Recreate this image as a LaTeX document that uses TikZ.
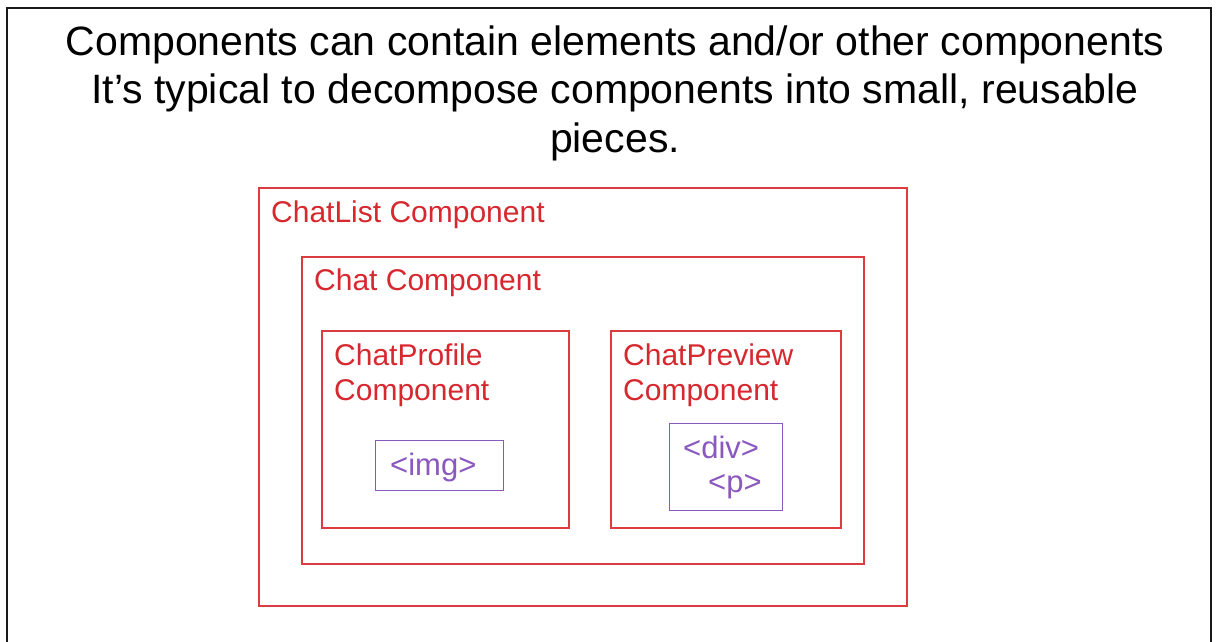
\documentclass[tikz,border=0pt]{standalone}
\usepackage{fontspec}
\setmainfont{Liberation Sans}
\definecolor{compred}{RGB}{214,40,46}
\definecolor{boxred}{RGB}{220,60,64}
\definecolor{elpurple}{RGB}{138,88,190}
\begin{document}
\begin{tikzpicture}[x=1pt,y=-1pt,
  compbox/.style={draw=boxred, line width=1.6pt, anchor=north west, inner sep=0pt},
  elbox/.style={draw=elpurple, line width=1.3pt, anchor=north west, inner sep=0pt},
  complabel/.style={anchor=base west, inner sep=0pt, text=compred, font=\fontsize{30}{35}\selectfont, align=left},
  ellabel/.style={anchor=base west, inner sep=0pt, text=elpurple, font=\fontsize{31}{34}\selectfont, align=left},
  title/.style={anchor=base, inner sep=0pt, align=center, font=\fontsize{41}{48.5}\selectfont}]
\useasboundingbox (0,0) rectangle (1217,641);
\fill[white] (0,0) rectangle (1217,641);
\draw[line width=2pt, black!90] (7,660) -- (7,8) -- (1211,8) -- (1211,660);
\node[title] (title) at (615,152) {Components can contain elements and/or other components\\It’s typical to decompose components into small, reusable\\pieces.};
\node[compbox, minimum width=648pt, minimum height=418pt] (chatlist) at (258,187) {};
\node[compbox, minimum width=562pt, minimum height=307pt] (chat) at (301,256) {};
\node[compbox, minimum width=247pt, minimum height=197pt] (profile) at (321,330) {};
\node[compbox, minimum width=230pt, minimum height=197pt] (preview) at (610,330) {};
\node[elbox, minimum width=128pt, minimum height=50pt] (img) at (375,440) {};
\node[elbox, minimum width=113pt, minimum height=87pt] (div) at (669,423) {};
\node[complabel] (chatlistl) at (271,222) {ChatList Component};
\node[complabel] (chatl) at (314,290) {Chat Component};
\node[complabel] (profilel) at (334,400) {ChatProfile\\Component};
\node[complabel] (previewl) at (623,400) {ChatPreview\\Component};
\node[ellabel] (imgl) at (390,475) {<img>};
\node[ellabel] (divl) at (683,458) {<div>};
\node[ellabel] (pl) at (708,492) {<p>};
\end{tikzpicture}
\end{document}
